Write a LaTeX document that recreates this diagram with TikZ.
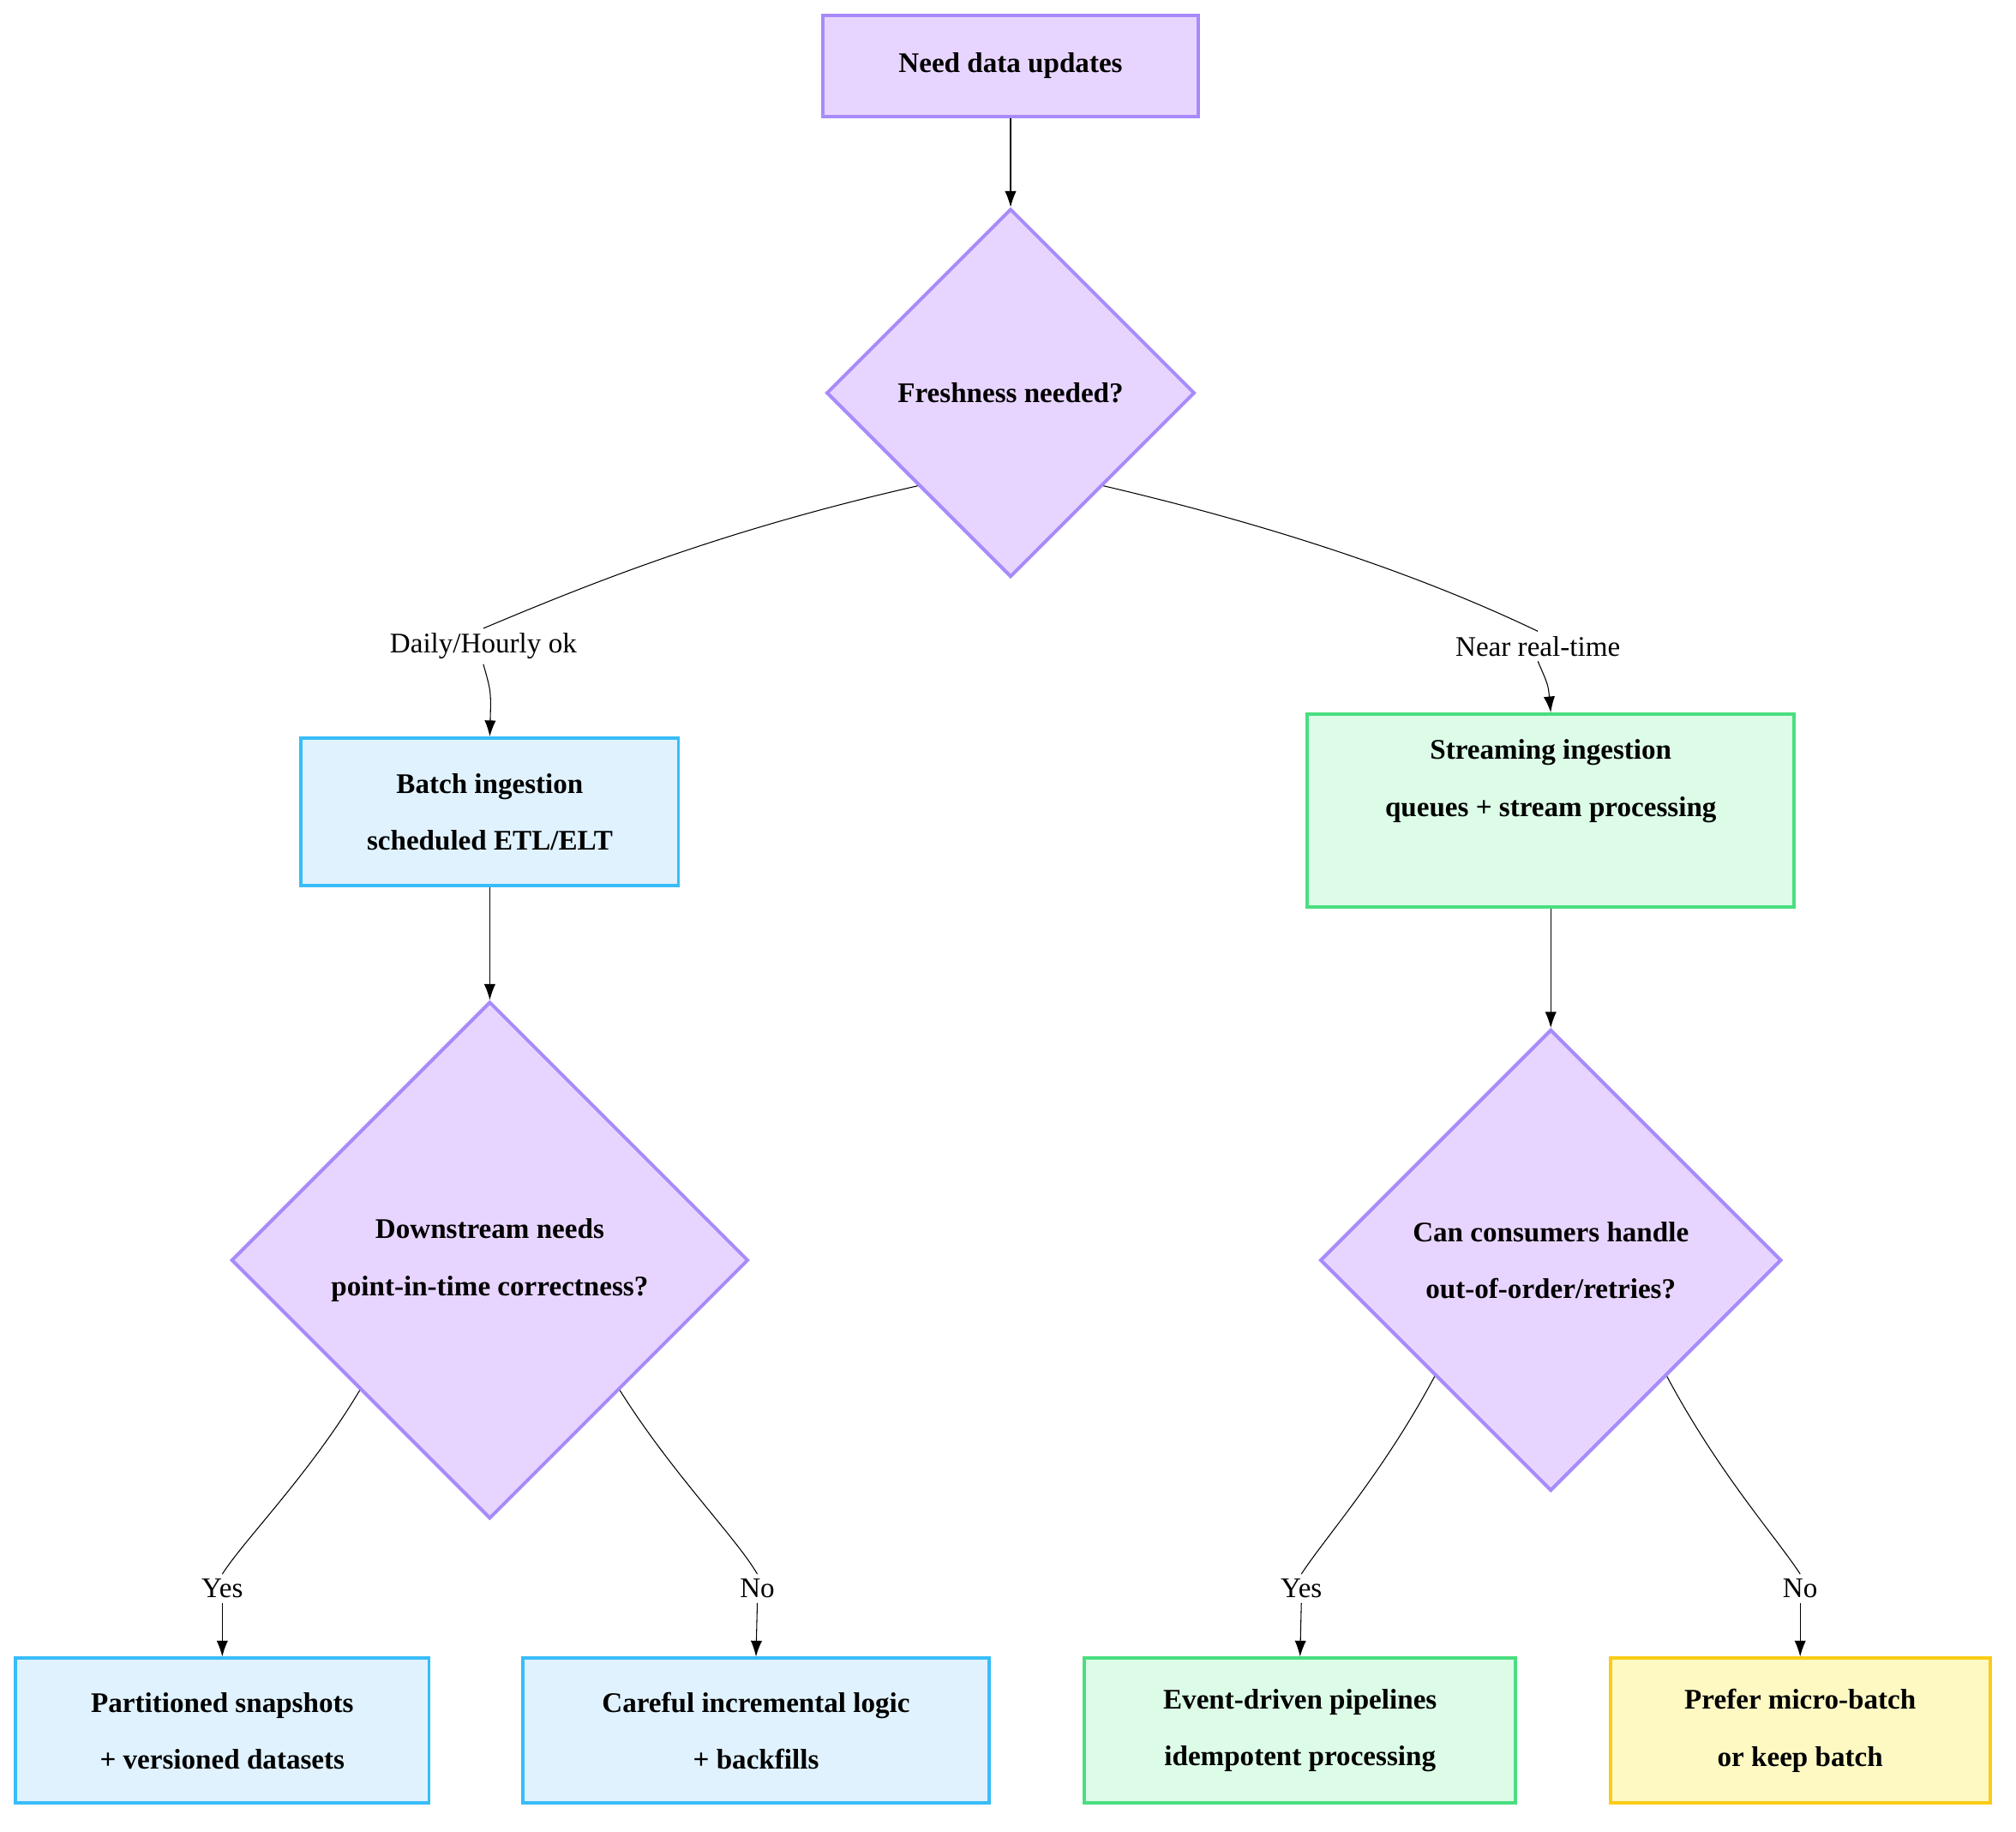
\documentclass[tikz,border=0pt]{standalone}
\usepackage{fontspec}
\setmainfont{Liberation Serif}
\usetikzlibrary{shapes.geometric,arrows.meta}
\definecolor{qfill}{HTML}{E8D5FF}\definecolor{qline}{HTML}{A78BFA}
\definecolor{bfill}{HTML}{E0F2FE}\definecolor{bline}{HTML}{38BDF8}
\definecolor{gfill}{HTML}{DCFCE7}\definecolor{gline}{HTML}{4ADE80}
\definecolor{yfill}{HTML}{FEF9C3}\definecolor{yline}{HTML}{FACC15}
\begin{document}
\begin{tikzpicture}[x=0.02cm,y=-0.02cm,
    block/.style ={rectangle, draw=qline, fill=qfill, line width=1.5pt,
      align=center, font=\fontsize{12.5}{25}\selectfont\bfseries, minimum height=1.56cm},
    decision/.style ={diamond, aspect=1, draw=qline, fill=qfill, line width=1.5pt,
      align=center, inner sep=0pt, font=\fontsize{12.5}{25}\selectfont\bfseries},
    batch/.style ={block, draw=bline, fill=bfill},
    stream/.style ={block, draw=gline, fill=gfill},
    fallback/.style ={block, draw=yline, fill=yfill},
    elabel/.style ={font=\fontsize{12.5}{15}\selectfont, inner sep=2pt},
    line/.style ={draw, thin, -{Latex[length=7pt,width=5pt]}}]
    \useasboundingbox (0,0) rectangle (1560,1417);
    % nodes
    \node [block, minimum width=5.82cm] (need) at (782,51) {Need data updates};
    \node [decision, minimum size=5.7cm] (fresh) at (782,304) {Freshness needed?};
    \node [batch, minimum width=5.84cm, minimum height=2.28cm] (batchin) at (379,628) {Batch ingestion\\scheduled ETL/ELT};
    \node [stream, minimum width=7.54cm, minimum height=2.98cm] (streamin) at (1200,627) {Streaming ingestion\\queues + stream processing\\[-4pt]\strut};
    \node [decision, minimum size=8cm] (pit) at (379,975) {Downstream needs\\point-in-time correctness?};
    \node [decision, minimum size=7.14cm] (order) at (1200,975) {Can consumers handle\\out-of-order/retries?};
    \node [batch, minimum width=6.4cm, minimum height=2.24cm] (snap) at (172,1339) {Partitioned snapshots\\+ versioned datasets};
    \node [batch, minimum width=7.22cm, minimum height=2.24cm] (incr) at (585,1339) {Careful incremental logic\\+ backfills};
    \node [stream, minimum width=6.68cm, minimum height=2.24cm] (event) at (1006,1339) {Event-driven pipelines\\idempotent processing};
    \node [fallback, minimum width=5.88cm, minimum height=2.24cm] (micro) at (1393,1339) {Prefer micro-batch\\or keep batch};
    % edge labels
    \node [elabel] (daily) at (374,500) {Daily/Hourly ok};
    \node [elabel] (near) at (1190,500) {Near real-time};
    \node [elabel] (yes1) at (172,1229) {Yes};
    \node [elabel] (no1) at (586,1229) {No};
    \node [elabel] (yes2) at (1007,1229) {Yes};
    \node [elabel] (no2) at (1393,1229) {No};
    % connectors
    \begin{scope}[every path/.style=line]
      \path (need) -- (fresh);
      \path (batchin) -- (pit);
      \path (streamin) -- (order);
    \end{scope}
    \draw [thin] (fresh.south west) .. controls (560,410) and (460,450) .. (daily.north);
    \draw [line] (daily.south) .. controls (380,535) .. (batchin.north);
    \draw [thin] (fresh.south east) .. controls (1000,410) and (1110,450) .. (near.north);
    \draw [line] (near.south) .. controls (1198,530) .. (streamin.north);
    \draw [thin] (pit.south west) .. controls (240,1140) and (190,1190) .. (yes1.north);
    \draw [line] (yes1.south) -- (snap.north);
    \draw [thin] (pit.south east) .. controls (520,1140) and (570,1190) .. (no1.north);
    \draw [line] (no1.south) -- (incr.north);
    \draw [thin] (order.south west) .. controls (1070,1140) and (1025,1190) .. (yes2.north);
    \draw [line] (yes2.south) -- (event.north);
    \draw [thin] (order.south east) .. controls (1330,1140) and (1375,1190) .. (no2.north);
    \draw [line] (no2.south) -- (micro.north);
\end{tikzpicture}
\end{document}
